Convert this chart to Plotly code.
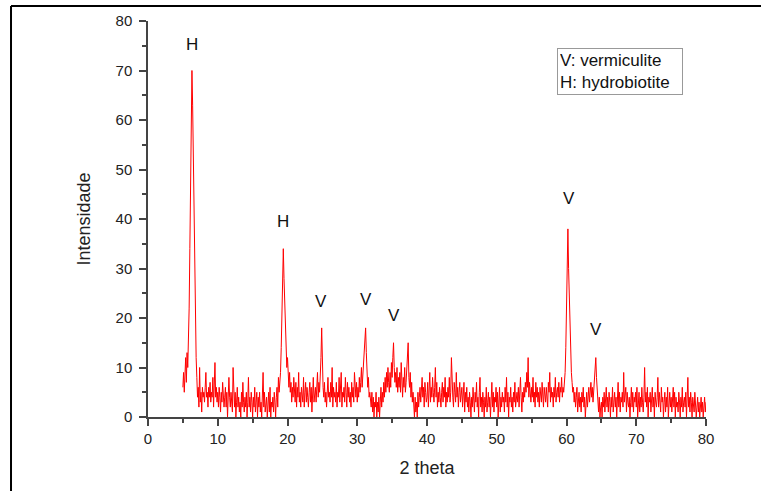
import plotly.graph_objects as go

# XRD scan: 2 theta from 5 to 80 degrees, step 0.1
theta_start = 5.0
theta_step = 0.1

intensity = [
    6, 9, 5, 8, 12, 7, 13, 10, 15, 22,        # 5
    34, 48, 60, 70, 63, 50, 38, 28, 18, 12,   # 6
    8, 4, 6, 2, 10, 3, 5, 1, 6, 4,            # 7
    5, 3, 6, 9, 4, 5, 2, 6, 4, 7,             # 8
    3, 5, 4, 8, 2, 5, 11, 4, 6, 3,            # 9
    5, 2, 6, 4, 1, 5, 3, 7, 4, 2,             # 10
    4, 6, 2, 5, 0, 3, 8, 4, 2, 5,             # 11
    3, 1, 10, 4, 2, 5, 0, 3, 6, 2,            # 12
    4, 1, 3, 0, 5, 2, 7, 3, 1, 4,             # 13
    2, 5, 0, 3, 8, 2, 4, 1, 5, 3,             # 14
    0, 4, 2, 6, 1, 3, 5, 0, 4, 2,             # 15
    5, 1, 3, 0, 4, 9, 2, 5, 1, 3,             # 16
    4, 0, 2, 5, 1, 6, 0, 3, 2, 4,             # 17
    1, 5, 3, 0, 4, 6, 2, 8, 5, 7,             # 18
    9, 14, 20, 27, 34, 28, 22, 16, 13, 10,    # 19
    12, 8, 6, 9, 5, 7, 3, 6, 4, 8,            # 20
    5, 3, 7, 2, 6, 4, 9, 3, 5, 2,             # 21
    6, 4, 3, 8, 2, 5, 7, 3, 6, 4,             # 22
    2, 5, 7, 3, 6, 1, 4, 8, 3, 5,             # 23
    6, 3, 5, 9, 4, 7, 5, 8, 12, 18,           # 24
    10, 6, 4, 7, 3, 5, 2, 6, 8, 4,            # 25
    5, 3, 7, 4, 10, 2, 6, 4, 5, 3,            # 26
    7, 2, 5, 4, 8, 3, 6, 9, 2, 5,             # 27
    4, 6, 3, 8, 5, 2, 7, 4, 6, 3,             # 28
    5, 2, 7, 4, 6, 3, 9, 5, 4, 7,             # 29
    3, 6, 4, 8, 5, 7, 10, 6, 9, 12,           # 30
    14, 16, 18, 13, 9, 6, 8, 4, 5, 3,         # 31
    2, 5, 1, 4, 0, 3, 2, 5, 0, 3,             # 32
    1, 4, 0, 3, 6, 2, 5, 3, 7, 4,             # 33
    8, 5, 9, 6, 10, 7, 5, 9, 6, 11,           # 34
    8, 12, 15, 10, 7, 9, 6, 10, 5, 8,         # 35
    6, 9, 5, 11, 7, 4, 8, 6, 10, 5,           # 36
    7, 9, 12, 15, 8, 6, 9, 4, 7, 3,           # 37
    5, 2, 0, 4, 1, 3, 0, 5, 2, 4,             # 38
    6, 3, 5, 8, 4, 6, 2, 7, 5, 3,             # 39
    4, 7, 2, 5, 9, 3, 6, 4, 8, 5,             # 40
    3, 6, 10, 4, 7, 2, 5, 3, 6, 4,            # 41
    2, 5, 7, 3, 6, 4, 8, 2, 5, 3,             # 42
    6, 4, 8, 3, 5, 12, 6, 4, 2, 7,            # 43
    5, 3, 9, 4, 6, 2, 5, 7, 3, 4,             # 44
    6, 2, 4, 7, 1, 5, 3, 6, 2, 4,             # 45
    1, 5, 3, 0, 4, 2, 6, 3, 1, 5,             # 46
    3, 7, 2, 4, 0, 5, 8, 2, 4, 1,             # 47
    5, 3, 0, 4, 2, 6, 1, 3, 5, 2,             # 48
    4, 0, 3, 7, 2, 5, 1, 4, 3, 6,             # 49
    2, 5, 0, 3, 6, 1, 4, 2, 5, 3,             # 50
    4, 1, 6, 3, 8, 2, 5, 0, 4, 3,             # 51
    6, 2, 4, 1, 5, 3, 7, 2, 4, 5,             # 52
    3, 6, 2, 5, 8, 4, 1, 5, 3, 6,             # 53
    4, 7, 5, 9, 6, 12, 4, 7, 5, 3,            # 54
    6, 4, 8, 3, 5, 2, 7, 4, 6, 3,             # 55
    5, 2, 6, 4, 3, 7, 5, 2, 6, 4,             # 56
    3, 6, 4, 2, 7, 5, 9, 3, 6, 4,             # 57
    5, 2, 6, 4, 8, 3, 5, 6, 4, 7,             # 58
    3, 6, 5, 8, 4, 6, 5, 7, 9, 14,            # 59
    20, 28, 38, 30, 24, 18, 13, 9, 7, 5,      # 60
    6, 3, 5, 2, 4, 6, 1, 3, 5, 2,             # 61
    4, 1, 5, 3, 6, 2, 4, 0, 3, 5,             # 62
    2, 4, 6, 3, 5, 7, 4, 6, 3, 5,             # 63
    7, 9, 12, 8, 5, 3, 1, 4, 0, 2,            # 64
    3, 0, 4, 2, 5, 1, 3, 6, 2, 4,             # 65
    1, 5, 3, 0, 4, 2, 6, 1, 3, 5,             # 66
    2, 4, 0, 3, 7, 2, 5, 1, 4, 3,             # 67
    5, 2, 9, 3, 4, 6, 1, 5, 3, 2,             # 68
    4, 0, 3, 6, 2, 5, 1, 4, 3, 5,             # 69
    2, 6, 0, 3, 5, 1, 4, 2, 6, 3,             # 70
    1, 4, 10, 3, 5, 2, 6, 0, 4, 3,            # 71
    5, 1, 3, 6, 2, 4, 0, 5, 3, 2,             # 72
    4, 8, 2, 5, 3, 1, 6, 3, 4, 0,             # 73
    3, 5, 1, 4, 2, 6, 0, 3, 5, 2,             # 74
    4, 1, 3, 6, 2, 5, 0, 4, 2, 3,             # 75
    1, 5, 3, 0, 4, 2, 6, 1, 3, 4,             # 76
    2, 5, 0, 3, 8, 2, 4, 1, 5, 3,             # 77
    0, 4, 2, 1, 5, 3, 0, 2, 4, 1,             # 78
    3, 0, 2, 4, 1, 3, 0, 2, 4, 1,             # 79
    3,                                        # 80
]

# peak labels
peak_labels = ['H', 'H', 'V', 'V', 'V', 'V', 'V']
peak_x = [6.3, 19.3, 24.8, 31.3, 35.3, 60.3, 64.2]
peak_y = [75.2, 39.4, 23.4, 23.8, 20.6, 44.2, 17.6]

legend_text = 'V: vermiculite<br>H: hydrobiotite'

FONT = 'Liberation Sans, Arial, sans-serif'
AXIS = '#444444'


def main():
    fig = go.Figure()
    fig.add_trace(go.Scatter(x0=theta_start, dx=theta_step, y=intensity,
                             mode='lines',
                             line=dict(color='#ff0000', width=1),
                             showlegend=False, hoverinfo='skip'))

    for lab, px, py in zip(peak_labels, peak_x, peak_y):
        fig.add_annotation(x=px, y=py, text=lab, showarrow=False,
                           font=dict(family=FONT, size=17, color='#111111'))

    fig.add_annotation(xref='paper', yref='paper', x=0.733, y=0.932,
                       xanchor='left', yanchor='top', align='left',
                       text=legend_text, showarrow=False, width=120,
                       font=dict(family=FONT, size=17, color='#111111'),
                       bordercolor='#999999', borderwidth=1, borderpad=2,
                       bgcolor='white')

    # outer frame (cropped page border)
    fig.add_shape(type='line', xref='paper', yref='paper',
                  x0=-0.2455, x1=1.099, y0=1.038, y1=1.038,
                  line=dict(color='black', width=2))
    fig.add_shape(type='line', xref='paper', yref='paper',
                  x0=-0.2455, x1=-0.2455, y0=1.038, y1=-0.187,
                  line=dict(color='black', width=2))

    common = dict(range=[0, 80], dtick=10, showgrid=False, zeroline=False,
                  showline=True, linecolor=AXIS, linewidth=1.5,
                  tickcolor=AXIS, tickwidth=1.5, ticklen=7, automargin=False)

    fig.update_layout(
        width=761, height=491,
        margin=dict(l=148, r=55, t=21, b=74),
        paper_bgcolor='white', plot_bgcolor='white',
        font=dict(family=FONT, color='#222222'),
        xaxis=dict(**common, ticks='outside',
                   minor=dict(dtick=5, ticks='outside', ticklen=4,
                              tickcolor=AXIS, tickwidth=1.5),
                   tickfont=dict(size=15),
                   title=dict(text='2 theta', font=dict(size=18), standoff=16)),
        yaxis=dict(**common, ticks='outside', ticklabelstandoff=4,
                   minor=dict(dtick=5, ticks='outside', ticklen=4,
                              tickcolor=AXIS, tickwidth=1.5),
                   tickfont=dict(size=15),
                   title=dict(text='Intensidade', font=dict(size=18), standoff=20)),
        xaxis2=dict(**common, overlaying='x', side='top', ticks='inside',
                    showticklabels=False,
                    minor=dict(dtick=5, ticks='inside', ticklen=4,
                               tickcolor=AXIS, tickwidth=1.5)),
        yaxis2=dict(**common, overlaying='y', side='right', ticks='inside',
                    showticklabels=False,
                    minor=dict(dtick=5, ticks='inside', ticklen=4,
                               tickcolor=AXIS, tickwidth=1.5)),
    )

    # drop the default 8px page margin so the figure sits at the window corner
    fig.write_html('out.html', config={'displayModeBar': False},
                   post_script="document.body.style.margin='0';")


if __name__ == '__main__':
    main()
